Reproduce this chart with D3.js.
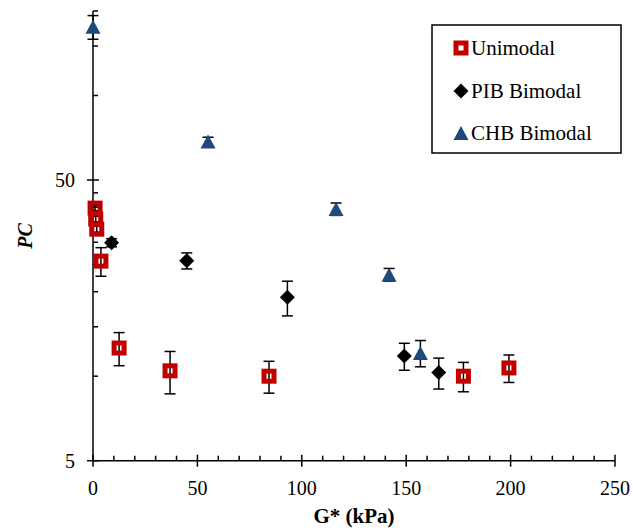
<!DOCTYPE html>
<html>
<head>
<meta charset="utf-8">
<script src="https://cdn.jsdelivr.net/npm/d3@7"></script>
<style>
  body { margin: 0; background: #fff; }
</style>
</head>
<body>
<div id="chart"></div>
<script>
// Data: G* (kPa), PC and +/- error
const uniG   = [1.0, 1.3, 1.8, 3.8, 12.5, 36.9, 84.3, 177.4, 199.2];
const uniPC  = [39.7, 36.3, 33.4, 25.7, 12.6, 10.45, 10.0, 10.0, 10.7];
const uniErr = [0.8, 0.8, 0.8, 3.0, 1.7, 1.8, 1.3, 1.2, 1.2];

const pibG   = [8.9, 44.9, 93.1, 149.1, 165.6];
const pibPC  = [29.9, 25.8, 19.1, 11.8, 10.3];
const pibErr = [1.0, 1.7, 2.7, 1.3, 1.3];

const chbG   = [0.0, 55.1, 116.4, 141.8, 156.8];
const chbPC  = [175.6, 68.5, 39.4, 23.0, 12.1];
const chbErr = [17.0, 2.5, 2.0, 1.2, 1.3];

const xTicks = [0, 50, 100, 150, 200, 250];
const yTicks = [5, 50];
const seriesNames = [`Unimodal`, `PIB Bimodal`, `CHB Bimodal`];

// Constant
const width = 633;
const height = 530;
const fontFamily = `"Liberation Serif", "Times New Roman", serif`;
const red = `#C00000`;
const blue = `#1F497D`;

const xScale = d3.scaleLinear().domain([0, 250]).range([93, 615]);
const yScale = d3.scaleLog().domain([5, 200]).range([460.7, 11]);

const svg = d3.select(`#chart`).append(`svg`)
    .attr(`width`, width)
    .attr(`height`, height)
    .style(`font-family`, fontFamily);

// minor ticks
const xMinor = d3.range(0, 251, 10).filter(v => v % 50 !== 0);
const yMinor = d3.range(10, 50, 5).concat([100, 150, 200]);

const axisG = svg.append(`g`).attr(`stroke`, `black`).attr(`stroke-width`, 1.5);

axisG.selectAll(`.xminor`).data(xMinor).join(`line`)
    .attr(`x1`, d => xScale(d)).attr(`x2`, d => xScale(d))
    .attr(`y1`, yScale(5)).attr(`y2`, yScale(5) - 5);
axisG.selectAll(`.xmajor`).data(xTicks).join(`line`)
    .attr(`x1`, d => xScale(d)).attr(`x2`, d => xScale(d))
    .attr(`y1`, yScale(5) - 6).attr(`y2`, yScale(5) + 6);
axisG.selectAll(`.yminor`).data(yMinor).join(`line`)
    .attr(`x1`, xScale(0)).attr(`x2`, xScale(0) + 5)
    .attr(`y1`, d => yScale(d)).attr(`y2`, d => yScale(d));
axisG.selectAll(`.ymajor`).data(yTicks).join(`line`)
    .attr(`x1`, xScale(0) - 6).attr(`x2`, xScale(0) + 6)
    .attr(`y1`, d => yScale(d)).attr(`y2`, d => yScale(d));

axisG.append(`line`)
    .attr(`x1`, xScale(0)).attr(`x2`, xScale(250))
    .attr(`y1`, yScale(5)).attr(`y2`, yScale(5));
axisG.append(`line`)
    .attr(`x1`, xScale(0)).attr(`x2`, xScale(0))
    .attr(`y1`, yScale(5)).attr(`y2`, yScale(200));

svg.selectAll(`.xlab`).data(xTicks).join(`text`)
    .attr(`x`, d => xScale(d))
    .attr(`y`, 495)
    .attr(`text-anchor`, `middle`)
    .style(`font-size`, `20px`)
    .text(d => d);

svg.selectAll(`.ylab`).data(yTicks).join(`text`)
    .attr(`x`, 75)
    .attr(`y`, d => yScale(d))
    .attr(`dy`, `0.35em`)
    .attr(`text-anchor`, `end`)
    .style(`font-size`, `20px`)
    .text(d => d);

svg.append(`text`)
    .attr(`x`, 354)
    .attr(`y`, 523)
    .attr(`text-anchor`, `middle`)
    .style(`font-size`, `21px`)
    .style(`font-weight`, `bold`)
    .text(`G* (kPa)`);

svg.append(`text`)
    .attr(`transform`, `translate(32, 236) rotate(-90)`)
    .attr(`text-anchor`, `middle`)
    .style(`font-size`, `20px`)
    .style(`font-weight`, `bold`)
    .style(`font-style`, `italic`)
    .text(`PC`);

// error bars
const drawErrors = (gs, pcs, errs) => {
    const pts = gs.map((g, i) => ({x: xScale(g), hi: yScale(pcs[i] + errs[i]), lo: yScale(pcs[i] - errs[i])}));
    const eg = svg.append(`g`).attr(`stroke`, `black`).attr(`stroke-width`, 1.5);
    eg.selectAll(`.v`).data(pts).join(`line`)
        .attr(`x1`, d => d.x).attr(`x2`, d => d.x)
        .attr(`y1`, d => d.hi).attr(`y2`, d => d.lo);
    eg.selectAll(`.t`).data(pts).join(`line`)
        .attr(`x1`, d => d.x - 5.5).attr(`x2`, d => d.x + 5.5)
        .attr(`y1`, d => d.hi).attr(`y2`, d => d.hi);
    eg.selectAll(`.b`).data(pts).join(`line`)
        .attr(`x1`, d => d.x - 5.5).attr(`x2`, d => d.x + 5.5)
        .attr(`y1`, d => d.lo).attr(`y2`, d => d.lo);
};

const squareMark = (sel) => sel.append(`rect`)
    .attr(`x`, -5).attr(`y`, -5).attr(`width`, 10).attr(`height`, 10)
    .attr(`fill`, `none`).attr(`stroke`, red).attr(`stroke-width`, 5);
const diamondMark = (sel) => sel.append(`path`)
    .attr(`d`, `M0,-7.5L7.5,0L0,7.5L-7.5,0Z`).attr(`fill`, `black`);
const triangleMark = (sel) => sel.append(`path`)
    .attr(`d`, `M0,-7L7.5,7L-7.5,7Z`).attr(`fill`, blue);

const drawMarks = (gs, pcs, mark) => {
    svg.append(`g`).selectAll(`g`).data(gs).join(`g`)
        .attr(`transform`, (d, i) => `translate(${xScale(d)},${yScale(pcs[i])})`)
        .call(mark);
};

drawErrors(uniG, uniPC, uniErr);
drawMarks(uniG, uniPC, squareMark);
drawErrors(pibG, pibPC, pibErr);
drawMarks(pibG, pibPC, diamondMark);
drawErrors(chbG, chbPC, chbErr);
drawMarks(chbG, chbPC, triangleMark);

// legend
const legend = svg.append(`g`);
legend.append(`rect`)
    .attr(`x`, 432).attr(`y`, 25).attr(`width`, 189).attr(`height`, 128)
    .attr(`fill`, `white`).attr(`stroke`, `black`).attr(`stroke-width`, 1.5);
const legendMarks = [squareMark, diamondMark, triangleMark];
const legendY = [48, 91, 133];
seriesNames.forEach((name, i) => {
    legend.append(`g`)
        .attr(`transform`, `translate(461,${legendY[i]})`)
        .call(legendMarks[i]);
    legend.append(`text`)
        .attr(`x`, 471)
        .attr(`y`, legendY[i])
        .attr(`dy`, `0.35em`)
        .style(`font-size`, `21px`)
        .text(name);
});
</script>
</body>
</html>
